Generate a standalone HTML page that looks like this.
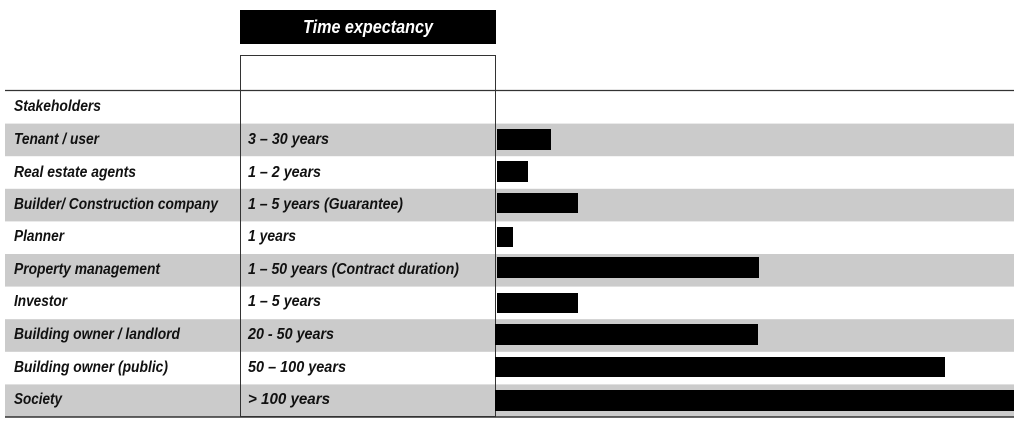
<!DOCTYPE html>
<html><head><meta charset="utf-8"><style>
html,body{margin:0;padding:0;background:#fff;}
svg{display:block;}
text{font-family:"Liberation Sans Narrow","Liberation Sans",sans-serif;font-weight:bold;font-style:italic;font-size:16px;fill:#111;}
</style></head><body>
<svg width="1024" height="426" viewBox="0 0 1024 426" xmlns="http://www.w3.org/2000/svg">
<rect x="0" y="0" width="1024" height="426" fill="#fff"/>
<rect x="5" y="123.6" width="1009" height="32.6" fill="#cbcbcb"/>
<rect x="5" y="188.8" width="1009" height="32.6" fill="#cbcbcb"/>
<rect x="5" y="254" width="1009" height="32.6" fill="#cbcbcb"/>
<rect x="5" y="319.2" width="1009" height="32.6" fill="#cbcbcb"/>
<rect x="5" y="384.4" width="1009" height="32.6" fill="#cbcbcb"/>
<rect x="240" y="10" width="256" height="34" fill="#000"/>
<text x="368" y="33" text-anchor="middle" style="fill:#fff;font-size:18px" textLength="130" lengthAdjust="spacingAndGlyphs">Time expectancy</text>
<rect x="240.5" y="55.5" width="255" height="361" fill="none" stroke="#333" stroke-width="1"/>
<line x1="5" y1="90.5" x2="1014" y2="90.5" stroke="#333" stroke-width="1.2"/>
<line x1="5" y1="417" x2="1014" y2="417" stroke="#333" stroke-width="1.5"/>
<rect x="497" y="129" width="54" height="21" fill="#000"/>
<rect x="497" y="161" width="31" height="21" fill="#000"/>
<rect x="497" y="193" width="81" height="20" fill="#000"/>
<rect x="497" y="227" width="16" height="20" fill="#000"/>
<rect x="497" y="257" width="262" height="21" fill="#000"/>
<rect x="497" y="293" width="81" height="20" fill="#000"/>
<rect x="495" y="324" width="263" height="21" fill="#000"/>
<rect x="495" y="357" width="450" height="20" fill="#000"/>
<rect x="495" y="390" width="519" height="21" fill="#000"/>
<text x="14" y="111" textLength="87" lengthAdjust="spacingAndGlyphs">Stakeholders</text>
<text x="14" y="144" textLength="85" lengthAdjust="spacingAndGlyphs">Tenant / user</text>
<text x="14" y="177" textLength="122" lengthAdjust="spacingAndGlyphs">Real estate agents</text>
<text x="14" y="209" textLength="204" lengthAdjust="spacingAndGlyphs">Builder/ Construction company</text>
<text x="14" y="241" textLength="50" lengthAdjust="spacingAndGlyphs">Planner</text>
<text x="14" y="274" textLength="146" lengthAdjust="spacingAndGlyphs">Property management</text>
<text x="14" y="306" textLength="53" lengthAdjust="spacingAndGlyphs">Investor</text>
<text x="14" y="339" textLength="166" lengthAdjust="spacingAndGlyphs">Building owner / landlord</text>
<text x="14" y="372" textLength="154" lengthAdjust="spacingAndGlyphs">Building owner (public)</text>
<text x="14" y="404" textLength="48" lengthAdjust="spacingAndGlyphs">Society</text>
<text x="248" y="144" textLength="81" lengthAdjust="spacingAndGlyphs">3 – 30 years</text>
<text x="248" y="177" textLength="73" lengthAdjust="spacingAndGlyphs">1 – 2 years</text>
<text x="248" y="209" textLength="155" lengthAdjust="spacingAndGlyphs">1 – 5 years (Guarantee)</text>
<text x="248" y="241" textLength="48" lengthAdjust="spacingAndGlyphs">1 years</text>
<text x="248" y="274" textLength="211" lengthAdjust="spacingAndGlyphs">1 – 50 years (Contract duration)</text>
<text x="248" y="306" textLength="73" lengthAdjust="spacingAndGlyphs">1 – 5 years</text>
<text x="248" y="339" textLength="86" lengthAdjust="spacingAndGlyphs">20 - 50 years</text>
<text x="248" y="372" textLength="98" lengthAdjust="spacingAndGlyphs">50 – 100 years</text>
<text x="248" y="404" textLength="82" lengthAdjust="spacingAndGlyphs">&gt; 100 years</text>
</svg>
</body></html>
